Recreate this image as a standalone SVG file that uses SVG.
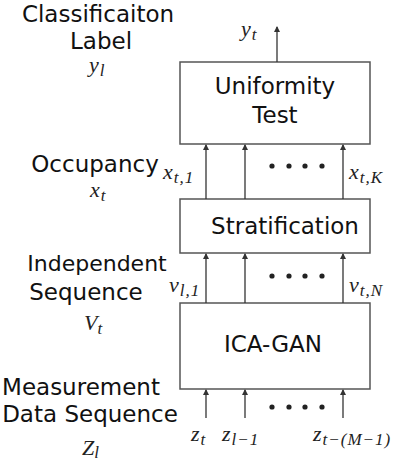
<svg xmlns="http://www.w3.org/2000/svg" width="420" height="464" viewBox="0 0 420 464">
<defs>
<marker id="ah" markerWidth="6" markerHeight="8" refX="5" refY="4" orient="auto" markerUnits="userSpaceOnUse">
<path d="M0,1 L6,4 L0,7 Z" fill="#333"/>
</marker>
<style>
.lbl{font-family:"DejaVu Sans",sans-serif;font-size:23px;fill:#111}
.box{fill:#fff;stroke:#555;stroke-width:1.5}
.m{font-family:"Liberation Serif",serif;font-style:italic;font-size:22px;fill:#222}
.s{font-size:17px;letter-spacing:1px}
.c{stroke:#333;stroke-width:1.3;fill:none;marker-end:url(#ah)}
.dot{fill:#222}
</style>
</defs>
<rect width="420" height="464" fill="#fff"/>
<g id="labels">
<text class="lbl" x="98" y="22" text-anchor="middle">Classificaiton</text>
<text class="lbl" x="101" y="49" text-anchor="middle">Label</text>
<text class="m" x="89" y="72">y<tspan class="s" dx="1" dy="4">l</tspan></text>
<text class="lbl" x="95" y="172" text-anchor="middle">Occupancy</text>
<text class="m" x="90" y="197">x<tspan class="s" dx="1" dy="4">t</tspan></text>
<text class="lbl" x="97" y="271" text-anchor="middle" style="font-size:22px">Independent</text>
<text class="lbl" x="86" y="300" text-anchor="middle">Sequence</text>
<text class="m" x="84" y="330">V<tspan class="s" dy="4">t</tspan></text>
<text class="lbl" x="81" y="395" text-anchor="middle">Measurement</text>
<text class="lbl" x="90" y="422" text-anchor="middle">Data Sequence</text>
<text class="m" x="82" y="455">Z<tspan class="s" dy="3">l</tspan></text>
</g>
<g id="uniformity">
<rect class="box" x="180" y="62" width="190" height="82"/>
<text class="lbl" x="275" y="94" text-anchor="middle">Uniformity</text>
<text class="lbl" x="275" y="123" text-anchor="middle">Test</text>
</g>
<g id="stratification">
<rect class="box" x="180" y="199" width="190" height="54"/>
<text class="lbl" x="285" y="234" text-anchor="middle">Stratification</text>
</g>
<g id="icagan">
<rect class="box" x="180" y="303" width="190" height="86"/>
<text class="lbl" x="273" y="352" text-anchor="middle">ICA-GAN</text>
</g>
<g id="connectors">
<line class="c" x1="277" y1="62" x2="277" y2="27"/>
<line class="c" x1="206" y1="199" x2="206" y2="145"/>
<line class="c" x1="245" y1="199" x2="245" y2="145"/>
<line class="c" x1="343" y1="199" x2="343" y2="145"/>
<line class="c" x1="206" y1="303" x2="206" y2="254"/>
<line class="c" x1="245" y1="303" x2="245" y2="254"/>
<line class="c" x1="343" y1="303" x2="343" y2="254"/>
<line class="c" x1="206" y1="418" x2="206" y2="390"/>
<line class="c" x1="245" y1="418" x2="245" y2="390"/>
<line class="c" x1="343" y1="418" x2="343" y2="390"/>
<circle class="dot" cx="272" cy="166" r="2.6"/><circle class="dot" cx="289" cy="166" r="2.6"/><circle class="dot" cx="305" cy="166" r="2.6"/><circle class="dot" cx="322" cy="166" r="2.6"/>
<circle class="dot" cx="272" cy="276" r="2.6"/><circle class="dot" cx="289" cy="276" r="2.6"/><circle class="dot" cx="305" cy="276" r="2.6"/><circle class="dot" cx="322" cy="276" r="2.6"/>
<circle class="dot" cx="272" cy="407" r="2.6"/><circle class="dot" cx="289" cy="407" r="2.6"/><circle class="dot" cx="305" cy="407" r="2.6"/><circle class="dot" cx="322" cy="407" r="2.6"/>
<text class="m" x="241" y="36">y<tspan class="s" dx="1" dy="4">t</tspan></text>
<text class="m" x="163" y="179">x<tspan class="s" dx="1" dy="4">t,1</tspan></text>
<text class="m" x="349" y="179">x<tspan class="s" dx="1" dy="4">t,K</tspan></text>
<text class="m" x="169" y="292">v<tspan class="s" dx="1" dy="4">l,1</tspan></text>
<text class="m" x="349" y="292">v<tspan class="s" dx="1" dy="4">t,N</tspan></text>
<text class="m" x="191" y="441">z<tspan class="s" dx="1" dy="4">t</tspan></text>
<text class="m" x="222" y="441">z<tspan class="s" dx="1" dy="4">l−1</tspan></text>
<text class="m" x="313" y="441">z<tspan class="s" dx="1" dy="4">t−(M−1)</tspan></text>
</g>
</svg>
